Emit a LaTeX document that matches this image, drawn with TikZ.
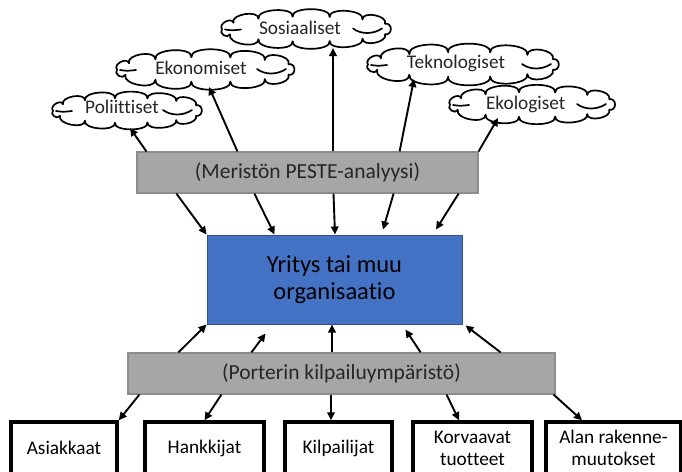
\documentclass[tikz,border=0pt]{standalone}
\usepackage{fontspec}
\setmainfont{Carlito}[Ligatures={NoCommon}]
\usetikzlibrary{arrows.meta,calc}
\definecolor{boxgray}{HTML}{A6A6A6}
\definecolor{boxgrayline}{HTML}{8C8C8C}
\definecolor{orgblue}{HTML}{4472C4}
\definecolor{orgblueline}{HTML}{2F528F}
\definecolor{labelgray}{HTML}{262626}

% scalloped cloud outline around node #1, semi-axes #2 (x) and #3 (y)
\newcommand\cloudoutline[3]{%
  \foreach \t [count=\k] in {180,150,125,100,75,50,25,-25,-50,-75,-100,-125,-155}
    \coordinate (#1-p\k) at ($(#1.center)+({#2*cos(\t)},{-#3*sin(\t)})$);
  \coordinate (#1-p14) at (#1-p1);
  \draw[cloudline] (#1-p1)
    \foreach \k/\f [remember=\k as \kp (initially 1)] in
      {2/0.5,3/0.36,4/0.3,5/0.28,6/0.3,7/0.38,8/0.75,9/0.38,10/0.3,11/0.28,12/0.3,13/0.35,14/0.6}
      { .. controls ($(#1-p\kp)!\f!100:(#1-p\k)$) and ($(#1-p\k)!\f!-100:(#1-p\kp)$) .. (#1-p\k) }
    -- cycle;
  % inner curls at both ends
  \draw[curl] ($(#1.center)+({-#2+3},0.5)$) .. controls ($(#1.center)+({-#2+10},1.5)$) .. ($(#1.center)+({-#2+19},0.5)$);
  \draw[curl] ($(#1.center)+({#2-40},-0.5)$) .. controls ($(#1.center)+({#2-32},5.5)$) and ($(#1.center)+({#2-20},5.5)$) .. ($(#1.center)+({#2-11},-0.5)$);
}

\begin{document}
\begin{tikzpicture}[x=1pt,y=-1pt,
  cloudbox/.style={inner sep=0pt, minimum height=35pt},
  cloudline/.style={draw=black, line width=1.7pt, fill=white, line join=round},
  cloudtext/.style={anchor=base, inner sep=0pt, font=\fontsize{19.3}{22}\selectfont, text=labelgray},
  graybox/.style={draw=boxgrayline, line width=1.2pt, fill=boxgray, inner sep=0pt,
    minimum height=41pt, font=\fontsize{21.5}{24}\selectfont, text=labelgray},
  orgbox/.style={draw=orgblueline, line width=1pt, fill=orgblue, minimum width=255pt,
    minimum height=89pt, align=center, font=\fontsize{24.5}{27.4}\selectfont, text=black},
  forcebox/.style={draw=black, line width=3.5pt, minimum height=52pt, align=center,
    inner sep=0pt, font=\fontsize{19.3}{22}\selectfont, text=black},
  arr/.style={line width=1.9pt, -{Triangle[length=8pt,width=7.5pt]}},
  curl/.style={line width=1.7pt, line cap=round},
]
\useasboundingbox (0,0) rectangle (682,471);
\clip (0,0) rectangle (682,471);

% central boxes
\node[graybox, minimum width=341pt] (peste) at (307.5,172.5) {(Meristön PESTE-analyysi)};
\node[orgbox] (org) at (334.5,279.5) {Yritys tai muu\\organisaatio};
\node[graybox, minimum width=427pt] (porter) at (341.5,373.5) {(Porterin kilpailuympäristö)};

% PESTE clouds
\node[cloudbox, minimum width=160pt] (pol)  at (128,110.5) {};
\node[cloudbox, minimum width=190pt] (eko)  at (207,69.5)  {};
\node[cloudbox, minimum width=181pt] (sos)  at (307.5,29)  {};
\node[cloudbox, minimum width=204pt] (tek)  at (465,64.5)  {};
\node[cloudbox, minimum width=177pt] (ekol) at (533.5,104.5) {};
\cloudoutline{pol}{75}{12.5}
\cloudoutline{eko}{90}{12.5}
\cloudoutline{sos}{85.5}{12.5}
\cloudoutline{tek}{97}{12.5}
\cloudoutline{ekol}{83.5}{12.5}
\node[cloudtext] (polt)  at (122,113.3)  {Poliittiset};
\node[cloudtext] (ekot)  at (201,74.3)   {Ekonomiset};
\node[cloudtext] (sost)  at (300,34.3)   {Sosiaaliset};
\node[cloudtext] (tekt)  at (456,68.3)   {Teknologiset};
\node[cloudtext] (ekolt) at (525.7,109)  {Ekologiset};

% competitive forces
\node[forcebox, minimum width=106pt] (asi)  at (64,448)    {Asiakkaat};
\node[forcebox, minimum width=119pt] (han)  at (204.5,448) {Hankkijat};
\node[forcebox, minimum width=107pt] (kil)  at (338.5,448) {Kilpailijat};
\node[forcebox, minimum width=119pt] (kor)  at (472.5,448) {Korvaavat\\tuotteet};
\node[forcebox, minimum width=135pt] (alan) at (613.5,448) {Alan rakenne-\\muutokset};

% PESTE box to clouds
\draw[arr] ($(peste.north west)+(10,0)$)  -- ($(pol.center)+(2,17.5)$);
\draw[arr] ($(peste.north west)+(101,0)$) -- ($(eko.center)+(2,17.5)$);
\draw[arr] ($(peste.north)+(25.5,0)$)     -- ($(sos.center)+(25.5,19)$);
\draw[arr] ($(peste.north east)+(-79,0)$) -- ($(tek.center)+(-51,14.5)$);
\draw[arr] (peste.north east)             -- ($(ekol.center)+(-35.5,13.5)$);

% PESTE box to organisation
\draw[arr] ($(peste.south west)+(40,0)$)  -- (org.north west);
\draw[arr] ($(peste.south west)+(118,0)$) -- ($(org.north west)+(68,0)$);
\draw[arr] ($(peste.south)+(26,0)$)       -- ($(org.north)+(0.5,0)$);
\draw[arr] ($(peste.south east)+(-85,0)$) -- ($(org.north)+(48.5,-5)$);
\draw[arr] ($(peste.south east)+(-20,0)$) -- ($(org.north)+(101.5,-5)$);

% Porter box to organisation
\draw[arr] ($(porter.north west)+(51,0)$)  -- (org.south west);
\draw[arr] ($(porter.north west)+(124,0)$) -- ($(org.south west)+(59,9)$);
\draw[arr] ($(porter.north)+(-9.5,0)$)     -- ($(org.south)+(-2.5,0)$);
\draw[arr] ($(porter.north east)+(-135,0)$) -- ($(org.south east)+(-57,5)$);
\draw[arr] ($(porter.north east)+(-55,0)$)  -- ($(org.south east)+(3,1)$);

% Porter box to forces
\draw[arr] ($(porter.south west)+(12,0)$)   -- (asi.north east);
\draw[arr] ($(porter.south west)+(94,0)$)   -- (han.north);
\draw[arr] ($(porter.south)+(-10.5,0)$)     -- ($(kil.north)+(-7.5,0)$);
\draw[arr] ($(porter.south east)+(-109,0)$) -- ($(kor.north)+(-13.5,0)$);
\draw[arr] ($(porter.south east)+(-2,0)$)   -- ($(alan.north)+(-31.5,0)$);
\end{tikzpicture}
\end{document}
